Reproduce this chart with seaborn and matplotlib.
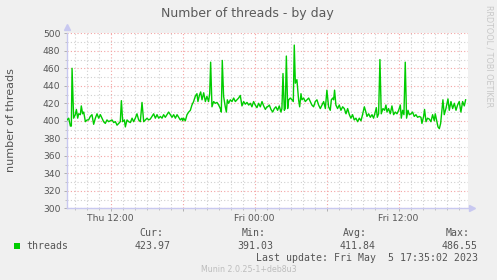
import matplotlib
matplotlib.use("Agg")
import matplotlib.pyplot as plt
from matplotlib.ticker import MultipleLocator, FixedLocator
import seaborn as sns
import pandas as pd

# ---- data (hours since Thu 00:00, number of threads) ----
hours = [
    8.36, 8.50, 8.64, 8.72, 8.78, 8.91, 9.05, 9.14, 9.25, 9.33, 9.47, 9.55, 9.66, 9.75, 9.89,
    10.03, 10.16, 10.30, 10.44, 10.58, 10.72, 10.86, 11.00, 11.14, 11.28, 11.41, 11.55, 11.69,
    11.83, 11.97, 12.11, 12.25, 12.39, 12.53, 12.66, 12.80, 12.89, 13.00, 13.14, 13.22, 13.36,
    13.50, 13.64, 13.78, 13.91, 14.05, 14.19, 14.33, 14.47, 14.61, 14.75, 14.89, 15.03, 15.16,
    15.30, 15.44, 15.58, 15.72, 15.86, 16.00, 16.14, 16.28, 16.41, 16.55, 16.69,
    16.83, 16.97, 17.11, 17.25, 17.39, 17.53, 17.66, 17.80, 17.94, 18.00, 18.08, 18.22, 18.36,
    18.50, 18.64, 18.77, 18.91, 19.05, 19.19, 19.27, 19.39, 19.50, 19.61, 19.75, 19.89, 20.02,
    20.16, 20.25, 20.33, 20.44, 20.58, 20.72, 20.86, 21.00, 21.14, 21.22, 21.30, 21.41, 21.55,
    21.64, 21.72, 21.83, 21.97, 22.11, 22.25, 22.39, 22.52, 22.66, 22.80, 22.94, 23.08, 23.22,
    23.36, 23.50, 23.64, 23.77, 23.91, 24.05, 24.19, 24.33, 24.47, 24.61, 24.75, 24.89, 25.02,
    25.08, 25.22, 25.36, 25.50, 25.64, 25.77, 25.91, 26.05, 26.19, 26.27, 26.36, 26.47, 26.55,
    26.64, 26.75, 26.83, 26.97, 27.11, 27.22, 27.30, 27.39, 27.52, 27.66, 27.75, 27.86, 27.94,
    28.08, 28.22, 28.36, 28.50, 28.64, 28.77, 28.91, 29.05, 29.19, 29.33, 29.47, 29.61, 29.75,
    29.89, 30.02, 30.16, 30.30, 30.39, 30.50, 30.58, 30.66, 30.77, 30.91, 31.05, 31.19, 31.33,
    31.47, 31.61, 31.75, 31.89, 32.02, 32.16, 32.30, 32.44, 32.58, 32.72, 32.86, 32.99, 33.14,
    33.27, 33.36, 33.50, 33.64, 33.78, 33.91, 34.05, 34.14, 34.22, 34.33, 34.44, 34.55, 34.69,
    34.83, 34.94, 35.03, 35.16, 35.30, 35.44, 35.58, 35.72, 35.86, 36.00, 36.14, 36.22, 36.33,
    36.44, 36.55, 36.66, 36.78, 36.89, 37.03, 37.16, 37.30, 37.44, 37.58, 37.72, 37.86, 37.94,
    38.08, 38.16, 38.28, 38.41, 38.55, 38.69, 38.83, 38.97, 39.05, 39.19, 39.28, 39.39, 39.50,
    39.61, 39.69, 39.80, 39.94, 40.11, 40.22, 40.36, 40.50, 40.64, 40.78, 40.91, 41.05, 41.19,
    41.33, 41.47, 41.58,
]
threads = [
    401, 403, 394, 394, 460, 403, 407, 413, 403, 408, 407, 417, 408, 410, 399,
    401, 401, 405, 407, 396, 403, 408, 403, 407, 403, 399, 397, 401,
    399, 400, 401, 398, 399, 395, 397, 399, 423, 399, 401, 393, 401,
    399, 398, 403, 399, 403, 408, 401, 399, 421, 399, 401, 403, 401,
    402, 405, 408, 403, 407, 403, 405, 403, 407, 404, 407,
    410, 407, 404, 407, 403, 407, 404, 401, 403, 400, 403, 400, 407,
    410, 412, 418, 422, 428, 431, 422, 429, 433, 424, 432, 422, 428,
    422, 431, 467, 416, 422, 420, 421, 418, 414, 410, 469, 428, 416,
    410, 424, 420, 424, 422, 426, 422, 424, 426, 429, 417, 422, 419,
    421, 418, 420, 416, 422, 418, 415, 420, 416, 422, 417, 413, 416,
    416, 418, 413, 410, 414, 416, 412, 417, 410, 414, 454, 412, 414,
    474, 414, 424, 426, 424, 422, 486.55, 443, 447, 424, 416, 431, 424,
    426, 422, 424, 426, 422, 418, 416, 422, 424, 418, 414, 418, 422,
    414, 435, 416, 412, 424, 426, 424, 435, 418, 414, 418, 412, 416,
    414, 408, 414, 407, 403, 407, 401, 403, 399, 403, 400, 407, 416,
    410, 405, 408, 404, 407, 403, 410, 415, 404, 408, 470, 408, 414,
    412, 418, 410, 414, 408, 417, 407, 410, 408, 412, 418, 403, 412,
    407, 467, 403, 412, 407, 408, 410, 405, 407, 404, 405, 404, 397,
    405, 413, 399, 403, 402, 399, 407, 400, 408, 399, 393, 391.03, 397,
    412, 424, 407, 414, 425, 412, 422, 414, 420, 412, 418, 422, 410,
    422, 417, 423.97,
]

title = "Number of threads - by day"
y_label = "number of threads"
x_tick_hours = [12, 18, 24, 30, 36]
x_tick_labels = ["Thu 12:00", "", "Fri 00:00", "", "Fri 12:00"]
series_name = "threads"
stat_names = ["Cur:", "Min:", "Avg:", "Max:"]
stat_values = ["423.97", "391.03", "411.84", "486.55"]
last_update = "Last update: Fri May  5 17:35:02 2023"
version_text = "Munin 2.0.25-1+deb8u3"
side_text = "RRDTOOL / TOBI OETIKER"

# ---- figure ----
W, H = 497, 280
fig = plt.figure(figsize=(W / 100, H / 100), dpi=100, facecolor="#F0F0F0")

def px(x, y):
    return x / W, 1 - y / H

left, right, top, bottom = 66.7, 468.0, 33.3, 208.3
ax = fig.add_axes([left / W, 1 - bottom / H, (right - left) / W, (bottom - top) / H])
ax.set_facecolor("white")

df = pd.DataFrame({"hour": hours, "threads": threads})
sns.lineplot(data=df, x="hour", y="threads", ax=ax, color="#00CC00", linewidth=1.0, zorder=5)

ax.set_xlim(8.333, 41.78)
ax.set_ylim(300, 500)

# grid
ax.xaxis.set_major_locator(FixedLocator(x_tick_hours))
ax.set_xticklabels(x_tick_labels)
ax.xaxis.set_minor_locator(MultipleLocator(1))
ax.yaxis.set_major_locator(MultipleLocator(20))
ax.yaxis.set_minor_locator(MultipleLocator(10))
ax.grid(which="minor", color="#D0D0D0", linestyle=(0, (1, 2)), linewidth=0.8, zorder=0)
ax.grid(which="major", color="#F4A3A3", linestyle=(0, (1, 2)), linewidth=0.8, zorder=1)
ax.set_axisbelow(True)

for s in ["top", "right"]:
    ax.spines[s].set_visible(False)
for s in ["left", "bottom"]:
    ax.spines[s].set_color("#C8C8F0")
    ax.spines[s].set_linewidth(1.0)

ax.tick_params(which="major", length=2.5, width=0.7, color="#B0B0B0", labelsize=6.6,
               labelcolor="#555555", pad=2)
ax.tick_params(which="minor", length=1.5, width=0.7, color="#C0C0C0")
ax.tick_params(axis="x", which="major", pad=1.5)
ax.set_xlabel("")
ax.set_ylabel("")
fig.text(*px(11.3, 120.5), y_label, ha="center", va="center", rotation=90,
         fontsize=8, color="#555555")

# axis arrows
ax.plot([0], [1.035], marker="^", color="#C8C8F0", markersize=4, transform=ax.transAxes, clip_on=False)
ax.plot([1.01], [0], marker=">", color="#C8C8F0", markersize=4, transform=ax.transAxes, clip_on=False)

# title & side text
fig.text(*px(247.5, 13.5), title, ha="center", va="center", fontsize=9, color="#5A5A5A")
fig.text(*px(488.5, 56), side_text, ha="center", va="center", rotation=270,
         fontsize=5.8, color="#C8C8C8")

# legend
mono = "DejaVu Sans Mono"
fig.patches.append(plt.Rectangle(px(14, 248.5), 6 / W, 6 / H, transform=fig.transFigure,
                                 facecolor="#00CC00", edgecolor="none"))
fig.text(*px(26.5, 245.7), series_name, ha="left", va="center", fontsize=7.1,
         family=mono, color="#555555")
name_right = [163.5, 265.5, 367.0, 469.5]
value_right = [170.5, 273.5, 375.5, 478.0]
for n, v, xn, xv in zip(stat_names, stat_values, name_right, value_right):
    fig.text(*px(xn, 233.3), n, ha="right", va="center", fontsize=7.1, family=mono, color="#555555")
    fig.text(*px(xv, 245.7), v, ha="right", va="center", fontsize=7.1, family=mono, color="#555555")
fig.text(*px(478.0, 258.3), last_update, ha="right", va="center", fontsize=7.1,
         family=mono, color="#555555")
fig.text(*px(248.5, 269.5), version_text, ha="center", va="center", fontsize=5.7, color="#BDBDBD")

fig.savefig("out.png", dpi=100, facecolor=fig.get_facecolor())
